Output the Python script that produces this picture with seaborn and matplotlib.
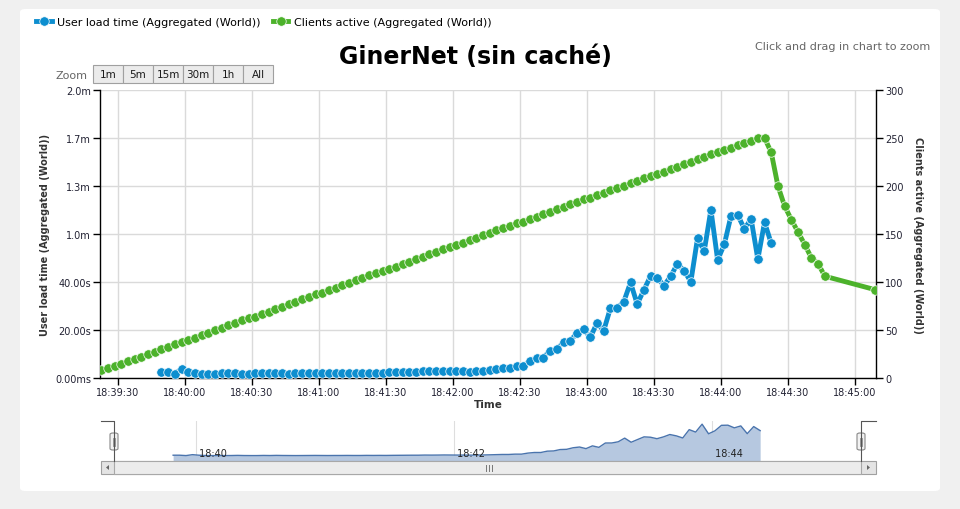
import pandas as pd
import matplotlib
matplotlib.use('Agg')
import matplotlib.pyplot as plt
import matplotlib.dates as mdates
import matplotlib.transforms as mtransforms
from matplotlib.patches import FancyBboxPatch, Rectangle, Polygon
from matplotlib.lines import Line2D
import seaborn as sns

TITLE = 'GinerNet (sin caché)'
BLUE_LABEL = 'User load time (Aggregated (World))'
GREEN_LABEL = 'Clients active (Aggregated (World))'
BLUE = '#0d8ecf'
GREEN = '#4cb22b'

DAY = '2013-05-20 '
# one sample every 3 s during the test
sample_times = pd.date_range(DAY + '18:39:22.5', periods=109, freq='3s')
final_time = pd.Timestamp(DAY + '18:45:09')

clients_active = [
    8, 10, 13, 15, 18, 20, 22, 25, 27, 30,
    32, 35, 37, 40, 42, 45, 47, 50, 52, 55,
    57, 60, 62, 64, 67, 69, 72, 74, 77, 79,
    82, 84, 87, 89, 92, 94, 97, 99, 102, 104,
    107, 109, 111, 114, 116, 119, 121, 124, 126, 129,
    131, 134, 136, 139, 141, 144, 146, 149, 151, 154,
    156, 158, 161, 163, 166, 168, 171, 173, 176, 178,
    181, 183, 186, 188, 191, 193, 196, 198, 200, 203,
    205, 208, 210, 213, 215, 218, 220, 223, 225, 228,
    230, 233, 235, 238, 240, 243, 245, 247, 250, 250,
    235, 200, 179, 165, 152, 139, 125, 119, 106,
]
clients_final = 92

# user load time in seconds, samples 9..100 of the grid
load_first, load_last = 9, 100
load_time_s = [
    2.6, 2.6, 1.8, 3.8, 2.6,
    1.9, 1.8, 1.8, 1.8, 1.9, 2.2, 1.9, 1.8, 1.8, 2.1,
    1.9, 2.2, 2.0, 1.9, 1.8, 1.9, 2.0, 2.1, 2.0, 1.9,
    2.0, 2.0, 2.1, 2.0, 2.0, 2.2, 2.1, 2.2, 2.1, 2.3,
    2.4, 2.5, 2.6, 2.6, 2.9, 2.8, 2.9, 3.1, 3.0, 2.9,
    2.9, 2.7, 2.9, 3.1, 3.4, 3.8, 4.2, 4.2, 4.9, 4.9,
    7.2, 8.5, 8.5, 11.4, 11.9, 14.9, 15.4, 18.8, 20.4, 16.9,
    22.9, 19.7, 29.1, 29.2, 31.8, 39.8, 30.8, 36.7, 42.5, 41.7,
    38.5, 42.4, 47.6, 44.7, 40.1, 58.2, 52.9, 70.1, 49.2, 55.7,
    67.6, 67.9, 62.1, 66.3, 49.5, 64.9, 56.1,
]

left_ticks = [0, 20, 40, 60, 80, 100, 120]
left_labels = ['0.00ms', '20.00s', '40.00s', '1.0m', '1.3m', '1.7m', '2.0m']
right_ticks = [0, 50, 100, 150, 200, 250, 300]
zoom_buttons = ['1m', '5m', '15m', '30m', '1h', 'All']
nav_ticks = ['18:40', '18:42', '18:44']

x_start = pd.Timestamp(DAY + '18:39:22')
x_end = pd.Timestamp(DAY + '18:45:09.4')

green_df = pd.DataFrame({
    'time': list(sample_times) + [final_time],
    'clients': clients_active + [clients_final],
})
blue_df = pd.DataFrame({
    'time': sample_times[load_first:load_last + 1],
    'load': load_time_s,
})

W, H = 960, 510


def fx(px):
    return px / W


def fy(py):
    return 1 - py / H


fig = plt.figure(figsize=(9.6, 5.1), dpi=100)
fig.patch.set_facecolor('#f0f0f0')
fig.patches.append(FancyBboxPatch((fx(20), fy(492)), fx(920), 482 / H,
                                  boxstyle='round,pad=0,rounding_size=0.006',
                                  transform=fig.transFigure, facecolor='white',
                                  edgecolor='none', zorder=-10))

# main chart
ax = fig.add_axes([fx(100), fy(379), fx(776), 288 / H])
ax2 = ax.twinx()

sns.lineplot(data=blue_df, x='time', y='load', ax=ax, color=BLUE, linewidth=3.5,
             marker='o', markersize=6.8, markeredgecolor='white',
             markeredgewidth=0.5, zorder=3)
sns.lineplot(data=green_df, x='time', y='clients', ax=ax2, color=GREEN,
             linewidth=3.5, marker='o', markersize=6.8, markeredgecolor='white',
             markeredgewidth=0.5, zorder=3)

ax.set_xlim(x_start, x_end)
ax.set_ylim(0, 120)
ax2.set_ylim(0, 300)
ax.set_yticks(left_ticks)
ax.set_yticklabels(left_labels)
ax2.set_yticks(right_ticks)
ax.xaxis.set_major_locator(mdates.SecondLocator(bysecond=[0, 30]))
ax.xaxis.set_major_formatter(mdates.DateFormatter('%H:%M:%S'))

ax.grid(True, color='#dadada', linewidth=1)
ax.set_axisbelow(True)
for name in ['top', 'right']:
    ax.spines[name].set_visible(False)
for name in ['top', 'left', 'bottom']:
    ax2.spines[name].set_visible(False)
for sp in [ax.spines['left'], ax.spines['bottom'], ax2.spines['right']]:
    sp.set_color('black')
    sp.set_linewidth(1)

ax.tick_params(axis='both', direction='out', length=5, width=1, color='black',
               labelsize=7, labelcolor='#222233', pad=1.5)
ax2.tick_params(axis='y', direction='out', length=5, width=1, color='black',
                labelsize=7, labelcolor='#222233', pad=1.5)

ax.set_xlabel('Time', fontsize=7.5, fontweight='bold', color='#333333', va='center')
ax.xaxis.set_label_coords(0.5, -(405 - 379) / 288)
ax.set_ylabel(BLUE_LABEL, fontsize=7, fontweight='bold', color='#333333',
              va='center')
ax.yaxis.set_label_coords(-55 / 776, 0.5)
ax2.set_ylabel(GREEN_LABEL, fontsize=7, fontweight='bold', color='#333333',
               rotation=270, va='center')
ax2.yaxis.set_label_coords(1 + 42 / 776, 0.5)

# texts above the chart
fig.text(fx(475), fy(57), TITLE, ha='center', va='center', fontsize=17,
         fontweight='bold', color='black')
fig.text(fx(930), fy(47), 'Click and drag in chart to zoom', ha='right',
         va='center', fontsize=8, color='#666666')

fig.legend(handles=[ax.lines[0], ax2.lines[0]], labels=[BLUE_LABEL, GREEN_LABEL],
           loc='center left', bbox_to_anchor=(fx(36), fy(23)), ncol=2,
           frameon=False, fontsize=8, handlelength=1.4, handletextpad=0.5,
           columnspacing=1.1, borderpad=0, borderaxespad=0)

# zoom buttons
fig.text(fx(88), fy(76), 'Zoom', ha='right', va='center', fontsize=8,
         color='#666666')
for k, lab in enumerate(zoom_buttons):
    x0 = 93 + 30 * k
    fig.patches.append(Rectangle((fx(x0), fy(84)), fx(30), 18 / H,
                                 transform=fig.transFigure, facecolor='#ebebeb',
                                 edgecolor='#a0a0a0', linewidth=0.8))
    fig.text(fx(x0 + 15), fy(75.5), lab, ha='center', va='center', fontsize=7.5,
             color='#1a1a1a')

# navigator
nav = fig.add_axes([fx(114), fy(462), fx(747), 40 / H])
nav.patch.set_alpha(0)
nav.fill_between(blue_df['time'], blue_df['load'], -10, color='#b6c8e0',
                 linewidth=0)
sns.lineplot(data=blue_df, x='time', y='load', ax=nav, color='#4a74ad',
             linewidth=1)
nav.set_xlim(x_start, x_end)
nav.set_ylim(-10, 77)
nav_times = [pd.Timestamp(DAY + t) for t in nav_ticks]
nav.set_xticks(nav_times)
nav.set_yticks([])
nav.tick_params(axis='x', length=0, labelbottom=False)
nav.grid(True, axis='x', color='#dedede', linewidth=0.8)
nav.set_axisbelow(True)
nav.set_xlabel('')
nav.set_ylabel('')
for sp in nav.spines.values():
    sp.set_visible(False)
trans = mtransforms.blended_transform_factory(nav.transData, nav.transAxes)
for t, lab in zip(nav_times, nav_ticks):
    nav.text(t, 0.2, ' ' + lab, transform=trans, ha='left', va='center',
             fontsize=7, color='#222222', zorder=5)

# navigator outline and handles
fig.add_artist(Line2D([fx(101), fx(114), fx(114)], [fy(422), fy(422), fy(462)],
                      color='#555555', linewidth=0.8))
fig.add_artist(Line2D([fx(861), fx(861), fx(876)], [fy(462), fy(422), fy(422)],
                      color='#555555', linewidth=0.8))
for hx in [114, 861]:
    fig.patches.append(FancyBboxPatch((fx(hx - 4), fy(451)), fx(8), 17 / H,
                                      boxstyle='round,pad=0,rounding_size=0.003',
                                      transform=fig.transFigure,
                                      facecolor='#f2f2f2', edgecolor='#888888',
                                      linewidth=0.8))
    for dx in [-1, 1]:
        fig.add_artist(Line2D([fx(hx + dx), fx(hx + dx)], [fy(447), fy(439)],
                              color='#888888', linewidth=0.6))

# scrollbar
fig.patches.append(Rectangle((fx(101), fy(475)), fx(775), 13 / H,
                             transform=fig.transFigure, facecolor='#e4e4e4',
                             edgecolor='#a0a0a0', linewidth=0.8))
fig.patches.append(Rectangle((fx(114), fy(475)), fx(747), 13 / H,
                             transform=fig.transFigure, facecolor='#ececec',
                             edgecolor='#a8a8a8', linewidth=0.8))
for gx in [486, 489, 492]:
    fig.add_artist(Line2D([fx(gx), fx(gx)], [fy(465.5), fy(471.5)],
                          color='#777777', linewidth=0.7))
fig.patches.append(Polygon([(fx(109), fy(466)), (fx(109), fy(471)), (fx(106), fy(468.5))],
                           closed=True, transform=fig.transFigure,
                           facecolor='#666666', edgecolor='none'))
fig.patches.append(Polygon([(fx(867), fy(466)), (fx(867), fy(471)), (fx(870), fy(468.5))],
                           closed=True, transform=fig.transFigure,
                           facecolor='#666666', edgecolor='none'))

fig.savefig('out.png', dpi=100, facecolor=fig.get_facecolor())
